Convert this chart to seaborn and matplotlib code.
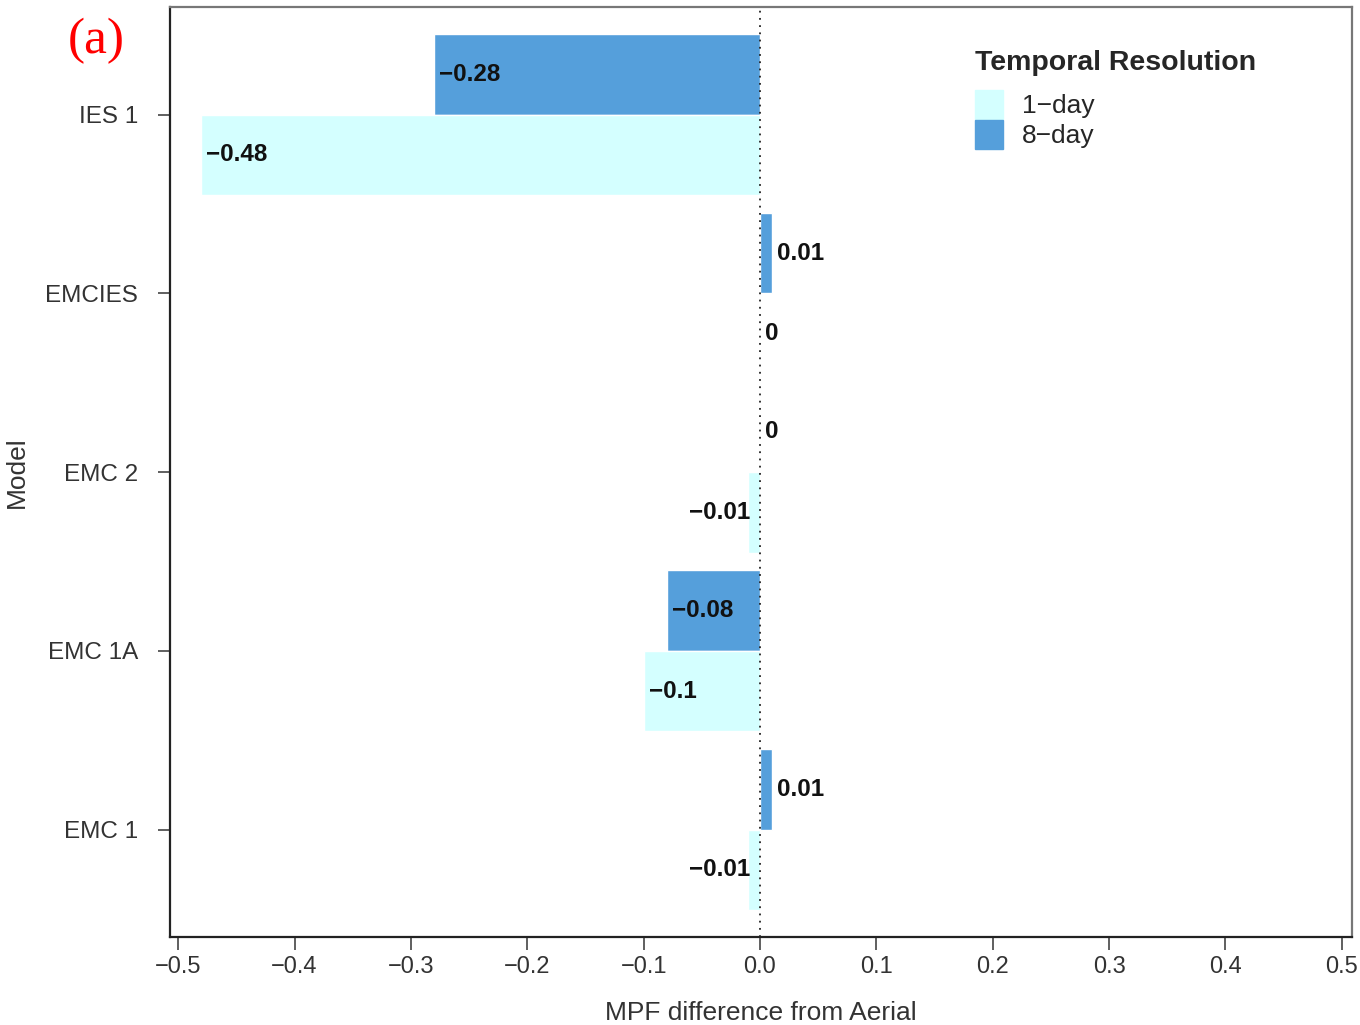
import matplotlib
matplotlib.use("Agg")
import matplotlib.pyplot as plt
import matplotlib.patches as mpatches
import seaborn as sns
import pandas as pd

# data
models = ["IES 1", "EMCIES", "EMC 2", "EMC 1A", "EMC 1"]
day1 = [-0.48, 0.00, -0.01, -0.10, -0.01]
day8 = [-0.28, 0.01, 0.00, -0.08, 0.01]
res_order = ["8-day", "1-day"]
colors = {"1-day": "#D4FFFF", "8-day": "#559FDB"}

df = pd.DataFrame({
    "Model": models * 2,
    "Resolution": ["1-day"] * len(models) + ["8-day"] * len(models),
    "MPF": day1 + day8,
})

sns.set_style("ticks")
plt.rcParams["font.family"] = ["Liberation Sans", "DejaVu Sans"]

fig = plt.figure(figsize=(13.6, 10.25), dpi=100)
ax = fig.add_axes([0.125, 0.0859, 0.869, 0.907])

sns.barplot(data=df, y="Model", x="MPF", hue="Resolution", order=models,
            hue_order=res_order, palette=colors, orient="h", width=0.9,
            dodge=True, ax=ax, legend=False, saturation=1)

ax.axvline(0, color="#222222", ls=(0, (1, 3)), lw=1.3, zorder=5)

ax.set_xlim(-0.507, 0.5086)
ax.set_ylim(4.6, -0.6)
ax.set_xticks([-0.5, -0.4, -0.3, -0.2, -0.1, 0.0, 0.1, 0.2, 0.3, 0.4, 0.5])
ax.set_xticklabels(["\u22120.5", "\u22120.4", "\u22120.3", "\u22120.2", "\u22120.1",
                    "0.0", "0.1", "0.2", "0.3", "0.4", "0.5"])

# bar value labels
offs = {"8-day": -0.225, "1-day": 0.225}
for res, vals in (("1-day", day1), ("8-day", day8)):
    for i, v in enumerate(vals):
        y = i + offs[res]
        if v < 0:
            xp = min(v, -0.0652) + 0.0043
        else:
            xp = v + 0.0043
        txt = ("%g" % v).replace("-", "\u2212")
        ax.text(xp, y, txt, ha="left", va="center", fontsize=17.5,
                fontweight="bold", color="#111111", zorder=6)

ax.set_xlabel("MPF difference from Aerial", fontsize=19, color="#333333", labelpad=16)
ax.set_ylabel("Model", fontsize=19, color="#333333", labelpad=12)
ax.tick_params(axis="x", labelsize=17, length=9, width=1.2, colors="#444444",
               labelcolor="#333333", pad=5)
ax.tick_params(axis="y", labelsize=17.5, length=9, width=1.2, colors="#444444",
               labelcolor="#333333", pad=14)

for s in ["left", "bottom"]:
    ax.spines[s].set_color("#222222")
    ax.spines[s].set_linewidth(1.6)
for s in ["top", "right"]:
    ax.spines[s].set_color("#777777")
    ax.spines[s].set_linewidth(1.6)

handles = [mpatches.Patch(color=colors["1-day"], label="1\u2212day"),
           mpatches.Patch(color=colors["8-day"], label="8\u2212day")]
leg = ax.legend(handles=handles, title="Temporal Resolution", loc="upper left",
                bbox_to_anchor=(0.681, 0.954), frameon=False, fontsize=19,
                title_fontsize=20.5, handlelength=1.05, handleheight=1.3,
                labelspacing=0.05, handletextpad=0.75, borderpad=0,
                borderaxespad=0)
leg.get_title().set_fontweight("bold")
leg._legend_box.align = "left"
leg._legend_box.sep = 10

fig.text(0.05, 0.96, "(a)", color="red", fontsize=37,
         family=["Liberation Serif", "DejaVu Serif"], ha="left", va="center")

fig.savefig("out.png", dpi=100)
